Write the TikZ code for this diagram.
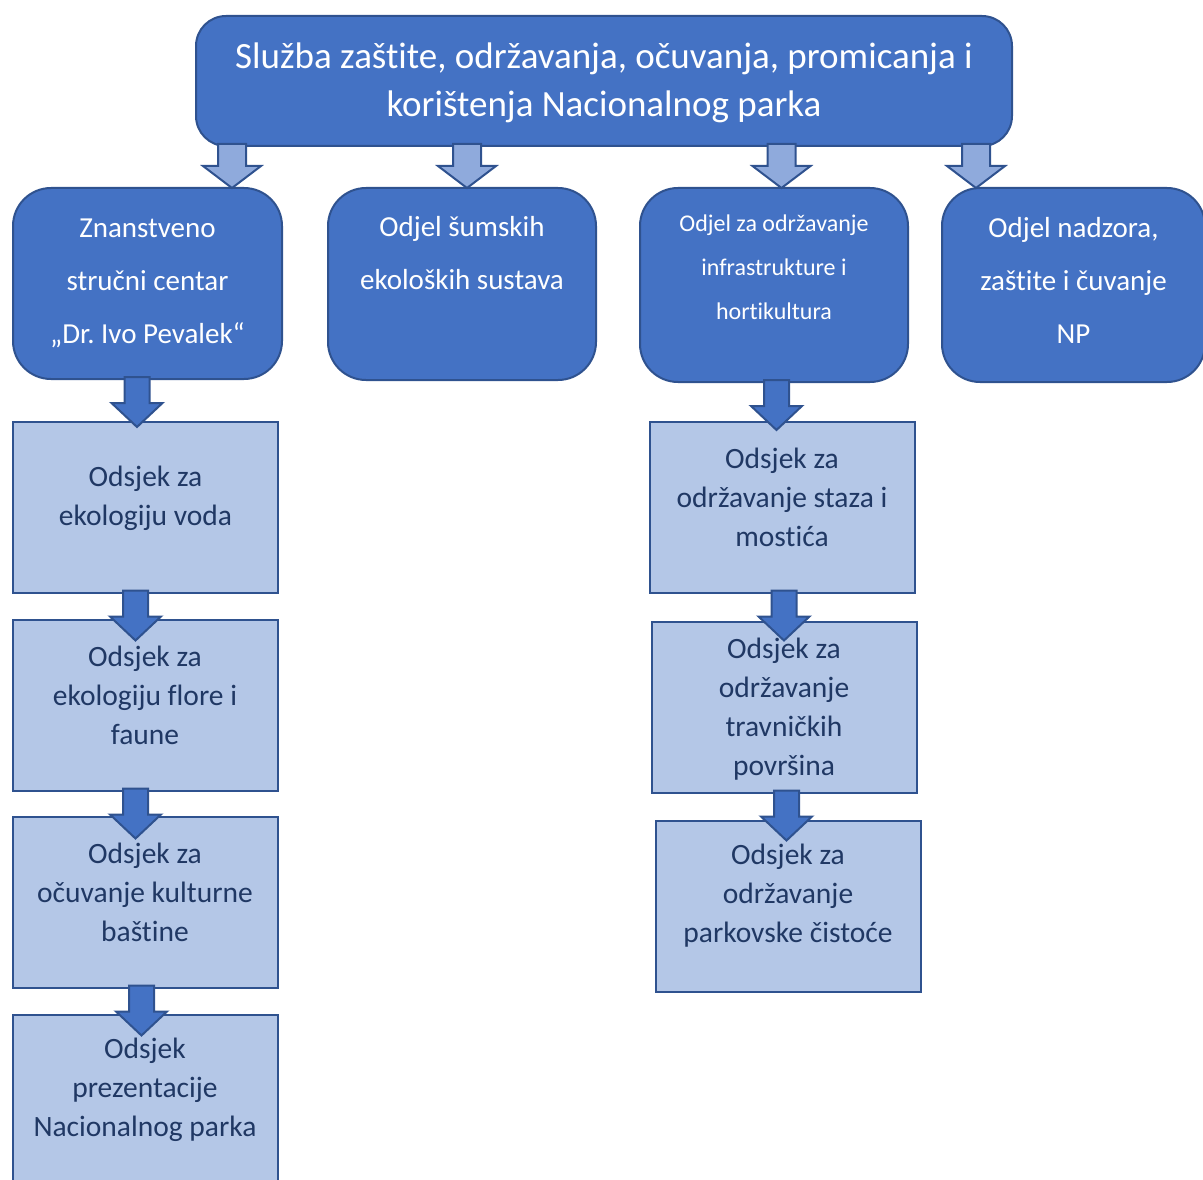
\documentclass[tikz,border=0pt]{standalone}
\usepackage{fontspec}
\setmainfont{Carlito}[Ligatures=CommonOff]
\usetikzlibrary{calc}

\definecolor{boxblue}{HTML}{4472C4}
\definecolor{edgeblue}{HTML}{2F528F}
\definecolor{paleblue}{HTML}{B4C7E7}
\definecolor{arrowblue}{HTML}{8FAADC}
\definecolor{inkblue}{HTML}{203864}

\begin{document}
\begin{tikzpicture} [x=1pt, y=-1pt, line width=2pt, align=center, line join=miter,
	headbox/.style={draw=edgeblue, fill=boxblue, rounded corners=30pt, inner sep=0pt},
	deptbox/.style={draw=edgeblue, fill=boxblue, rounded corners=38pt, inner sep=0pt},
	unitbox/.style={draw=edgeblue, fill=paleblue, inner sep=0pt, minimum width=265, minimum height=171},
	headtxt/.style={text=white, font=\fontsize{37}{48}\selectfont},
	depttxt/.style={text=white, font=\fontsize{29}{53}\selectfont},
	smalltxt/.style={text=white, font=\fontsize{24}{44}\selectfont},
	unittxt/.style={text=inkblue, font=\fontsize{29.5}{39}\selectfont},
	toparrow/.style={draw=edgeblue, fill=arrowblue, to path={let \p1=(\tikztostart) in
		(\x1-14pt,\y1+3pt) -- (\x1+14pt,\y1+3pt) -- (\x1+14pt,\y1-19pt) -- (\x1+29pt,\y1-19pt)
		-- (\x1,\y1-41pt) -- (\x1-29pt,\y1-19pt) -- (\x1-14pt,\y1-19pt) -- cycle}},
	subarrow/.style={draw=edgeblue, fill=boxblue, to path={let \p1=(\tikztostart) in
		(\x1-12.5pt,\y1+3pt) -- (\x1+12.5pt,\y1+3pt) -- (\x1+12.5pt,\y1-23pt) -- (\x1+25.5pt,\y1-23pt)
		-- (\x1,\y1-47pt) -- (\x1-25.5pt,\y1-23pt) -- (\x1-12.5pt,\y1-23pt) -- cycle}}]

\useasboundingbox (0,0) rectangle (1203,1180);

\node[headbox]	(sluzba)			at (604,81)		[minimum width=816, minimum height=130]	{};
\node[deptbox]	(znanstveni_centar)	at (147.5,283.5)	[minimum width=269, minimum height=191]	{};
\node[deptbox]	(odjel_sumski)		at (462,284)		[minimum width=268, minimum height=192]	{};
\node[deptbox]	(odjel_infra)		at (774,285)		[minimum width=268, minimum height=194]	{};
\node[deptbox]	(odjel_nadzor)		at (1073.5,285)	[minimum width=263, minimum height=194]	{};

\node[unitbox]	(odsjek_voda)		at (145.5,507)	{};
\node[unitbox]	(odsjek_flora)		at (145,705)		{};
\node[unitbox]	(odsjek_bastina)		at (145,902)		{};
\node[unitbox]	(odsjek_prezentacija)	at (145,1100)	{};
\node[unitbox]	(odsjek_staze)		at (782,507)		{};
\node[unitbox]	(odsjek_travnjaci)		at (784,707)		{};
\node[unitbox]	(odsjek_cistoca)		at (788,906)		{};

\node[headtxt]	(sluzba_t)		at ([yshift=-2]sluzba.center)	{Služba zaštite, održavanja, očuvanja, promicanja i\\ korištenja Nacionalnog parka};
\node[depttxt]	(znanstveni_centar_t)	at ([yshift=0]znanstveni_centar.center)	{Znanstveno\\ stručni centar\\ „Dr.\ Ivo Pevalek“};
\node[depttxt]	(odjel_sumski_t)		at ([yshift=30.5]odjel_sumski.center)	{Odjel šumskih\\ ekoloških sustava};
\node[smalltxt]	(odjel_infra_t)		at ([yshift=17.5]odjel_infra.center)	{Odjel za održavanje\\ infrastrukture i\\ hortikultura};
\node[depttxt]	(odjel_nadzor_t)		at ([yshift=5]odjel_nadzor.center)	{Odjel nadzora,\\ zaštite i čuvanje\\ NP};

\node[unittxt]	(odsjek_voda_t)		at ([yshift=9]odsjek_voda.center)	{Odsjek za\\ ekologiju voda};
\node[unittxt]	(odsjek_flora_t)		at ([yshift=10]odsjek_flora.center)	{Odsjek za\\ ekologiju flore i\\ faune};
\node[unittxt]	(odsjek_bastina_t)	at ([yshift=10]odsjek_bastina.center)	{Odsjek za\\ očuvanje kulturne\\ baštine};
\node[unittxt]	(odsjek_prezentacija_t)	at ([yshift=10]odsjek_prezentacija.center)	{Odsjek\\ prezentacije\\ Nacionalnog parka};
\node[unittxt]	(odsjek_staze_t)		at ([yshift=10]odsjek_staze.center)	{Odsjek za\\ održavanje staza i\\ mostića};
\node[unittxt]	(odsjek_travnjaci_t)	at ([yshift=-2.5]odsjek_travnjaci.center)	{Odsjek za\\ održavanje\\ travničkih\\ površina};
\node[unittxt]	(odsjek_cistoca_t)		at ([yshift=10]odsjek_cistoca.center)	{Odsjek za\\ održavanje\\ parkovske čistoće};

\path	([xshift=37]sluzba.south west)		edge	[toparrow]	(znanstveni_centar.north)
		([xshift=272]sluzba.south west)		edge	[toparrow]	(odjel_sumski.north)
		([xshift=586.5]sluzba.south west)	edge	[toparrow]	(odjel_infra.north)
		([xshift=781]sluzba.south west)		edge	[toparrow]	(odjel_nadzor.north)
		([xshift=-10.5]znanstveni_centar.south)	edge	[subarrow]	(odsjek_voda.north)
		([xshift=-10]odsjek_voda.south)		edge	[subarrow]	(odsjek_flora.north)
		([xshift=-9.5]odsjek_flora.south)		edge	[subarrow]	(odsjek_bastina.north)
		([xshift=-3.5]odsjek_bastina.south)	edge	[subarrow]	(odsjek_prezentacija.north)
		([xshift=2.5]odjel_infra.south)		edge	[subarrow]	(odsjek_staze.north)
		([xshift=2]odsjek_staze.south)		edge	[subarrow]	(odsjek_travnjaci.north)
		([xshift=2.5]odsjek_travnjaci.south)	edge	[subarrow]	(odsjek_cistoca.north)
;

\end{tikzpicture}
\end{document}
